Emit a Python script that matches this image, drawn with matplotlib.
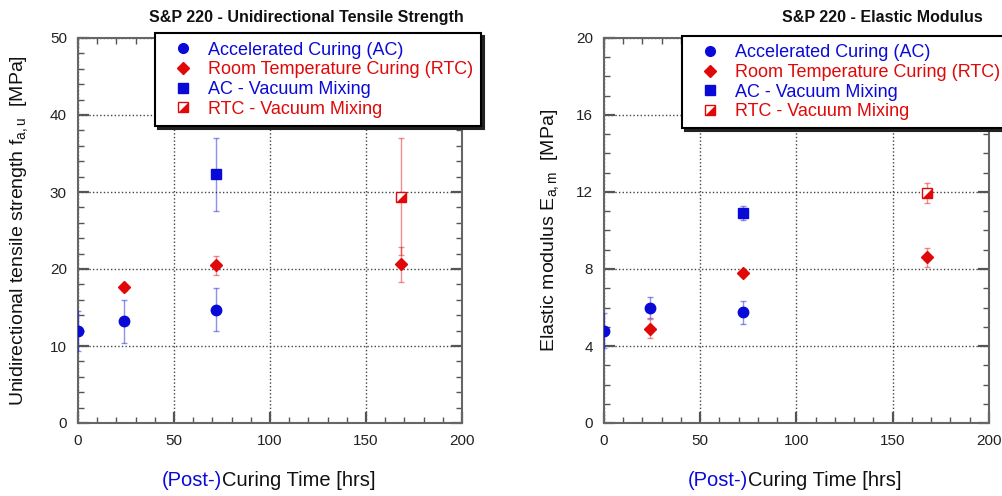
import matplotlib
matplotlib.use("Agg")
import matplotlib.pyplot as plt
from matplotlib.ticker import MultipleLocator
from matplotlib.lines import Line2D
from matplotlib.legend_handler import HandlerTuple

plt.rcParams['font.family'] = ['Liberation Sans', 'DejaVu Sans']
plt.rcParams['mathtext.fontset'] = 'custom'
plt.rcParams['mathtext.rm'] = 'Liberation Sans'
plt.rcParams['mathtext.it'] = 'Liberation Sans'

# ---------------- data ----------------
ac_x = [0, 24, 72]
rtc_x = [24, 72, 168]
acvm_x = [72]
rtcvm_x = [168]

ac_fu = [11.9, 13.2, 14.7]
ac_fu_err = [2.6, 2.75, 2.8]
rtc_fu = [17.6, 20.5, 20.6]
rtc_fu_err = [0.4, 1.25, 2.3]
acvm_fu = [32.3]
acvm_fu_err = [4.75]
rtcvm_fu = [29.4]
rtcvm_fu_err = [7.6]

ac_E = [4.8, 6.0, 5.75]
ac_E_err = [0.9, 0.55, 0.6]
rtc_E = [4.9, 7.8, 8.6]
rtc_E_err = [0.48, 0.15, 0.5]
acvm_E = [10.9]
acvm_E_err = [0.35]
rtcvm_E = [11.95]
rtcvm_E_err = [0.5]

labels = ["Accelerated Curing (AC)", "Room Temperature Curing (RTC)",
          "AC - Vacuum Mixing", "RTC - Vacuum Mixing"]
titles = ["S&P 220 - Unidirectional Tensile Strength", "S&P 220 - Elastic Modulus"]

BLUE = '#0a0ad8'
RED = '#e00808'
TRI = [(-1, -1), (1, -1), (1, 1), (-1, -1)]

fig = plt.figure(figsize=(10.03, 4.96), dpi=100)
ax1 = fig.add_axes([78/1003, 73/496, 384/1003, 385/496])
ax2 = fig.add_axes([604/1003, 73/496, 385/1003, 385/496])


def draw(ax, ac, ace, rtc, rtce, acvm, acvme, rtcvm, rtcvme):
    ekw = dict(ls='none', elinewidth=1.0, capsize=2.5, capthick=1.0, zorder=3, marker='none')
    for xs, ys, es, col in ((ac_x, ac, ace, BLUE), (rtc_x, rtc, rtce, RED),
                            (acvm_x, acvm, acvme, BLUE), (rtcvm_x, rtcvm, rtcvme, RED)):
        eb = ax.errorbar(xs, ys, yerr=es, ecolor=col, **ekw)
        for a in list(eb[1]) + list(eb[2]):
            a.set_alpha(0.45)
    ax.plot(ac_x, ac, ls='none', marker='o', ms=7.5, color=BLUE, zorder=4)
    ax.plot(rtc_x, rtc, ls='none', marker='D', ms=6.5, color=RED, zorder=4)
    ax.plot(acvm_x, acvm, ls='none', marker='s', ms=6.5, color=BLUE, zorder=4)
    ax.plot(rtcvm_x, rtcvm, ls='none', marker='s', ms=6.5, mfc='white', mec=RED, mew=1.0, zorder=4)
    ax.plot(rtcvm_x, rtcvm, ls='none', marker=TRI, ms=6.5, color=RED, mew=0, zorder=5)


draw(ax1, ac_fu, ac_fu_err, rtc_fu, rtc_fu_err, acvm_fu, acvm_fu_err, rtcvm_fu, rtcvm_fu_err)
draw(ax2, ac_E, ac_E_err, rtc_E, rtc_E_err, acvm_E, acvm_E_err, rtcvm_E, rtcvm_E_err)

ax1.set_ylim(0, 50)
ax1.yaxis.set_major_locator(MultipleLocator(10))
ax1.yaxis.set_minor_locator(MultipleLocator(2))
ax2.set_ylim(0, 20)
ax2.yaxis.set_major_locator(MultipleLocator(4))
ax2.yaxis.set_minor_locator(MultipleLocator(1))

for ax in (ax1, ax2):
    ax.set_xlim(0, 200)
    ax.xaxis.set_major_locator(MultipleLocator(50))
    ax.xaxis.set_minor_locator(MultipleLocator(10))
    ax.tick_params(which='both', direction='in', top=True, right=True,
                   color='#555555', labelsize=11, labelcolor='#222222')
    ax.tick_params(which='major', length=8, width=1.6, pad=8)
    ax.tick_params(which='minor', length=4, width=1.0)
    for s in ax.spines.values():
        s.set_color('#666666')
        s.set_linewidth(1.5)
    ax.grid(True, which='major', color='#444444', ls=(0, (1, 1.6)), lw=1.0)
    ax.set_axisbelow(True)

ax1.set_ylabel(r'Unidirectional tensile strength f$_{\mathrm{a,u}}$  [MPa]', fontsize=14, color='#111111')
ax2.set_ylabel(r'Elastic modulus E$_{\mathrm{a,m}}$  [MPa]', fontsize=14, color='#111111')
ax1.yaxis.set_label_coords(-0.125, 0.5)
ax2.yaxis.set_label_coords(-0.112, 0.5)

ax1.text((306 - 78) / 384, 1.052, titles[0], transform=ax1.transAxes, ha='center', va='center',
         fontsize=11.5, fontweight='bold', color='#111111')
ax2.text((882 - 604) / 385, 1.052, titles[1], transform=ax2.transAxes, ha='center', va='center',
         fontsize=11.5, fontweight='bold', color='#111111')

# x labels with two colours
for xs in (222, 748):
    fig.text(xs/1003, 1 - 480/496, '(Post-)', color=BLUE, ha='right', va='center', fontsize=14.5)
    fig.text(xs/1003, 1 - 480/496, 'Curing Time [hrs]', color='#111111', ha='left', va='center', fontsize=14.5)

# legends
h_ac = Line2D([], [], ls='none', marker='o', ms=7, color=BLUE)
h_rtc = Line2D([], [], ls='none', marker='D', ms=6.5, color=RED)
h_acvm = Line2D([], [], ls='none', marker='s', ms=6.5, color=BLUE)
h_rtcvm = (Line2D([], [], ls='none', marker='s', ms=6.5, mfc='white', mec=RED, mew=1.0),
           Line2D([], [], ls='none', marker=TRI, ms=6.5, color=RED, mew=0))

for ax, anchor in ((ax1, (0.200, 1.012)), (ax2, (0.203, 1.005))):
    leg = ax.legend([h_ac, h_rtc, h_acvm, h_rtcvm], labels, loc='upper left',
                    bbox_to_anchor=anchor, fontsize=13, frameon=True, fancybox=False,
                    framealpha=1, edgecolor='black', shadow={'color': '#222222', 'alpha': 1.0},
                    handlelength=2.2, handletextpad=0.3, borderpad=0.45, labelspacing=0.15,
                    borderaxespad=0, handler_map={tuple: HandlerTuple(ndivide=1, pad=0)})
    leg.get_frame().set_linewidth(1.5)
    leg.set_zorder(10)
    for t, c in zip(leg.get_texts(), [BLUE, RED, BLUE, RED]):
        t.set_color(c)

fig.savefig('out.png', dpi=100)
